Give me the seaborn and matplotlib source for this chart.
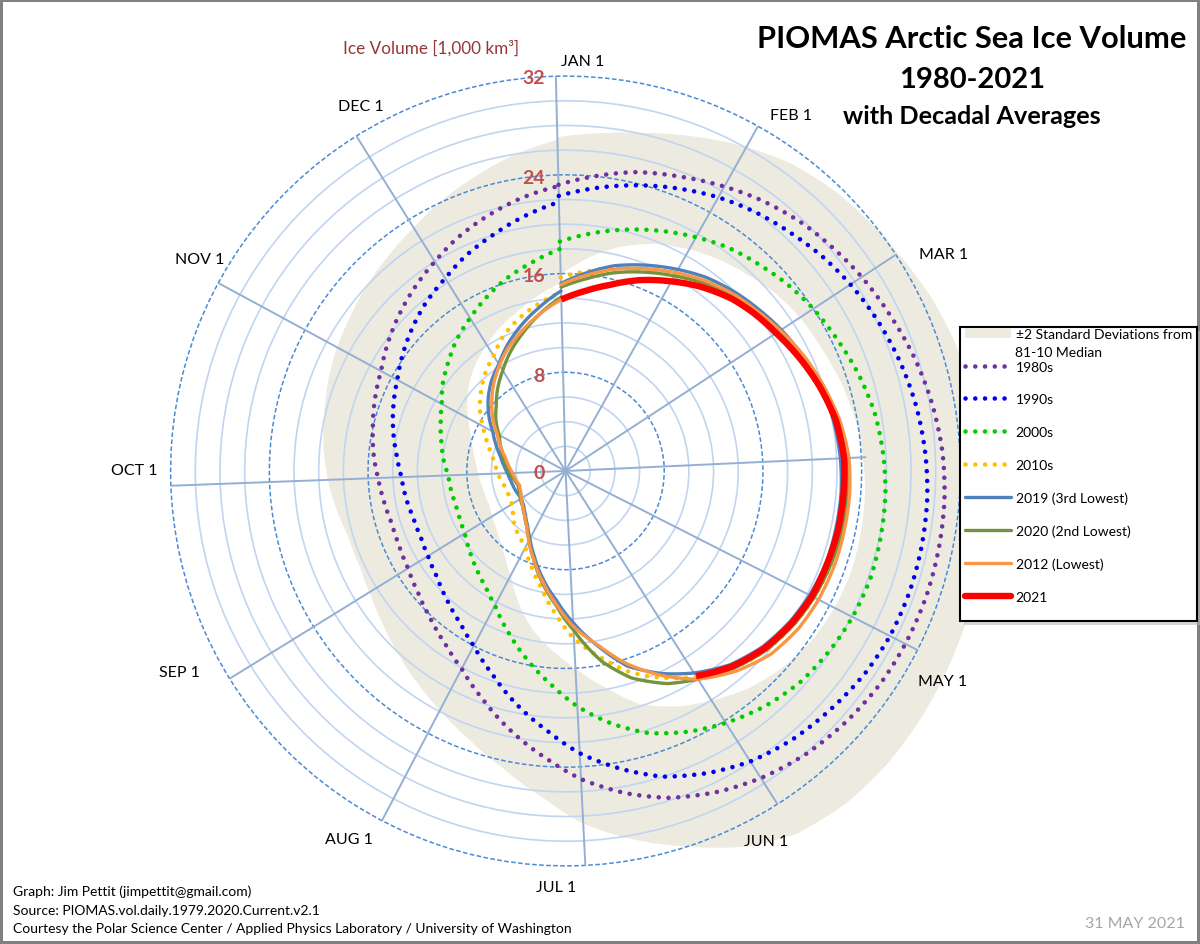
import numpy as np
import matplotlib
matplotlib.use("Agg")
import matplotlib.pyplot as plt
from matplotlib.lines import Line2D
from matplotlib.patches import Patch, Rectangle
import seaborn as sns

# day of year for each reading, read about every week off the chart
days = np.array([0, 8, 15, 23, 31, 38, 46, 52, 59, 67, 74, 82, 90, 97, 105, 112, 120, 127, 135,
                 143, 151, 158, 166, 173, 181, 188, 196, 204, 212, 219, 227, 235, 243, 250,
                 258, 265, 273, 280, 288, 296, 304, 311, 319, 326, 334, 341, 349, 357, 365])
days_2021 = days[:21]

band_low = [16.0, 17.5, 18.7, 19.8, 20.6, 21.2, 21.8, 22.3, 22.7, 23.0, 23.4, 23.8, 24.1, 24.3, 24.4, 24.5, 24.4,
            24.2, 23.7, 23.0, 22.0, 21.1, 19.8, 17.9, 16.0, 14.6, 13.1, 11.3, 9.6, 8.6, 7.8, 7.3, 7.0, 6.8, 6.8,
            6.9, 7.1, 7.3, 7.7, 8.2, 9.0, 9.8, 10.7, 11.4, 12.1, 12.8, 13.5, 14.4, 15.3]
band_high = [27.1, 27.6, 28.2, 29.1, 30.1, 30.9, 31.5, 31.8, 32.2, 32.8, 33.2, 33.6, 33.9, 34.2, 34.4, 34.6, 34.8,
             35.0, 35.2, 35.2, 34.8, 33.7, 31.9, 30.4, 28.6, 26.5, 24.6, 23.1, 21.9, 21.0, 20.1, 19.3, 18.7, 18.4,
             18.4, 18.8, 19.3, 19.7, 20.1, 20.6, 21.1, 21.5, 22.1, 22.6, 23.3, 24.1, 25.0, 26.0, 26.9]

vol_1980s = [23.2, 24.1, 24.9, 25.6, 26.4, 27.1, 27.8, 28.2, 28.7, 29.2, 29.7, 30.2, 30.6, 30.8, 30.9, 30.95, 30.9,
             30.8, 30.5, 30.1, 29.5, 28.8, 27.8, 26.6, 25.0, 23.3, 21.5, 19.7, 18.1, 17.1, 16.2, 15.5, 15.0, 14.8,
             14.7, 14.9, 15.2, 15.6, 16.0, 16.5, 17.0, 17.7, 18.5, 19.2, 20.0, 20.8, 21.6, 22.4, 23.1]
vol_1990s = [22.3, 23.1, 23.8, 24.6, 25.4, 26.0, 26.6, 27.1, 27.6, 28.1, 28.5, 28.9, 29.2, 29.4, 29.5, 29.55, 29.5,
             29.3, 28.9, 28.5, 27.9, 27.1, 26.0, 24.6, 22.9, 21.1, 19.3, 17.5, 16.0, 15.0, 14.2, 13.5, 13.1, 12.9,
             12.9, 13.1, 13.3, 13.7, 14.3, 14.9, 15.5, 16.2, 17.0, 17.7, 18.4, 19.2, 20.0, 20.9, 21.8]
vol_2000s = [18.6, 19.4, 20.1, 20.9, 21.7, 22.4, 23.0, 23.5, 24.0, 24.5, 25.0, 25.5, 25.8, 26.0, 26.1, 26.2, 26.1,
             25.9, 25.6, 25.0, 24.2, 23.4, 22.3, 20.9, 19.1, 17.3, 15.5, 13.8, 12.3, 11.4, 10.7, 10.1, 9.6, 9.4,
             9.3, 9.4, 9.5, 9.9, 10.3, 10.8, 11.4, 12.2, 13.0, 13.8, 14.6, 15.4, 16.3, 17.1, 18.0]
vol_2010s = [15.7, 16.3, 16.9, 17.5, 18.1, 18.8, 19.5, 20.0, 20.5, 21.2, 21.8, 22.3, 22.7, 22.9, 22.9, 22.8, 22.6,
             22.3, 21.8, 21.0, 19.8, 18.6, 17.1, 15.4, 13.6, 11.6, 9.6, 8.2, 7.0, 6.5, 6.1, 5.5, 5.1, 5.0,
             5.0, 5.2, 5.5, 5.7, 6.1, 6.8, 7.6, 8.5, 9.4, 10.2, 11.0, 12.0, 12.9, 13.7, 14.5]
vol_2019 = [15.2, 16.2, 17.1, 17.9, 18.7, 19.4, 20.0, 20.4, 20.9, 21.4, 21.8, 22.1, 22.3, 22.4, 22.4, 22.4, 22.2,
            21.9, 21.4, 20.6, 19.4, 18.2, 16.6, 14.5, 12.3, 10.5, 8.9, 7.4, 6.2, 5.4, 4.8, 4.4, 4.2, 4.3,
            4.4, 4.5, 4.7, 5.0, 5.4, 6.0, 6.7, 7.6, 8.6, 9.4, 10.2, 11.2, 12.3, 13.4, 14.6]
vol_2020 = [14.9, 15.7, 16.5, 17.3, 18.1, 18.9, 19.7, 20.2, 20.7, 21.4, 22.0, 22.5, 22.8, 22.9, 22.9, 22.8, 22.6,
            22.3, 21.8, 21.0, 20.0, 19.1, 17.6, 15.7, 12.9, 10.9, 9.2, 7.6, 6.3, 5.5, 4.9, 4.5, 4.3, 4.1,
            4.0, 4.2, 4.5, 4.8, 5.2, 5.6, 6.1, 6.9, 7.7, 8.6, 9.6, 10.6, 11.7, 12.9, 14.1]
vol_2012 = [15.1, 16.0, 16.8, 17.6, 18.4, 19.1, 19.8, 20.2, 20.8, 21.5, 22.0, 22.6, 23.0, 23.1, 23.1, 23.1, 23.0,
            22.8, 22.3, 21.3, 20.0, 18.4, 16.4, 14.4, 12.6, 10.8, 9.1, 7.6, 6.4, 5.5, 4.9, 4.5, 4.2, 4.0,
            3.9, 4.1, 4.3, 4.6, 5.0, 5.6, 6.3, 7.2, 8.2, 9.1, 10.1, 11.0, 11.9, 12.9, 13.9]
vol_2021 = [13.9, 14.7, 15.5, 16.6, 17.6, 18.5, 19.4, 19.9, 20.4, 21.1, 21.7, 22.3, 22.6, 22.6, 22.6, 22.5, 22.4,
            22.1, 21.6, 20.8, 19.7]

month_days = np.array([0, 31, 59, 90, 120, 151, 181, 212, 243, 273, 304, 334])
spoke_len = [32, 32, 32, 24.4, 32, 32, 32, 32, 32, 32, 32, 32]
month_labels = ["JAN 1", "FEB 1", "MAR 1", "MAY 1", "JUN 1", "JUL 1",
                "AUG 1", "SEP 1", "OCT 1", "NOV 1", "DEC 1"]
month_label_xy = [(583, 60), (791, 114), (944, 253), (943, 680), (766, 840), (556, 886),
                  (349, 838), (179, 671), (134, 469), (200, 258), (361, 105)]
ring_labels = ["32", "24", "16", "8", "0"]
ring_label_y = [77, 177, 275, 374, 472]

W, H = 1200, 945
CX, CY = 565.5, 472
PX_PER_UNIT = 12.34
RMAX = 38


def to_theta(d):
    return np.deg2rad(np.asarray(d) * 360 / 365)


sns.set_style("white")
plt.rcParams["font.family"] = ["Lato", "DejaVu Sans"]
plt.rcParams["text.color"] = "black"

fig = plt.figure(figsize=(12, 9.45), dpi=100)
fig.patch.set_edgecolor("#808080")
fig.patch.set_linewidth(3)

R = RMAX * PX_PER_UNIT
ax = fig.add_axes([(CX - R) / W, (H - CY - R) / H, 2 * R / W, 2 * R / H], projection="polar")
ax.set_theta_direction(-1)
ax.set_theta_offset(np.pi / 2 + np.deg2rad(1.4))
ax.patch.set_alpha(0)
ax.spines["polar"].set_visible(False)


def smooth(artist_path):
    # polar chords -> curved segments when drawn
    artist_path._interpolation_steps = 8


band = ax.fill_between(to_theta(days), band_low, band_high, color="#EDEBE0", lw=0, zorder=0.2)
for p in band.get_paths():
    smooth(p)

ax.vlines(to_theta(month_days), 0, spoke_len, color="#94AFD4", lw=1.4, zorder=1)

dotted = dict(linestyle=(0, (0.01, 2.12)), dash_capstyle="round", lw=3.3, zorder=2)
series = [
    (vol_1980s, days, "#7030A0", dotted),
    (vol_1990s, days, "#0000F0", dotted),
    (vol_2000s, days, "#00CC00", dotted),
    (vol_2010s, days, "#FFC000", dotted),
    (vol_2019, days, "#4F81BD", dict(lw=2.4, zorder=3)),
    (vol_2020, days, "#76923C", dict(lw=2.4, zorder=3)),
    (vol_2012, days, "#F79646", dict(lw=2.4, zorder=3)),
    (vol_2021, days_2021, "#FF0000", dict(lw=4.6, zorder=4, solid_capstyle="butt")),
]
for vals, dd, col, kw in series:
    sns.lineplot(x=to_theta(dd), y=vals, color=col, sort=False, estimator=None, errorbar=None,
                 ax=ax, **kw)
    smooth(ax.lines[-1].get_path())

ax.set_ylim(0, RMAX)
ax.set_xticks([])
ax.set_yticks([8, 16, 24, 32])
ax.set_yticks([2, 4, 6, 10, 12, 14, 18, 20, 22, 26, 28, 30], minor=True)
ax.grid(False, axis="x")
ax.grid(True, which="major", axis="y", color="#4A8AD4", lw=1.1, linestyle=(0, (3, 1.6)))
ax.grid(True, which="minor", axis="y", color="#C0D5F0", lw=1.2)
ax.tick_params(axis="y", which="both", length=0, labelleft=False)
ax.set_xlabel("")
ax.set_ylabel("")


def label(x, y, s, **kw):
    kw.setdefault("va", "center")
    kw.setdefault("ha", "center")
    return fig.text(x / W, 1 - (y + 2) / H, s, **kw)


for s, (x, y) in zip(month_labels, month_label_xy):
    label(x, y, s, fontsize=11.5)
for s, y in zip(ring_labels, ring_label_y):
    label(545, y, s, ha="right", fontsize=14, color="#C0504D", fontweight="bold", zorder=6)

label(431, 46, "Ice Volume [1,000 km³]", fontsize=12.3, color="#953735")
label(972, 37, "PIOMAS Arctic Sea Ice Volume", fontsize=22.2, fontweight="bold")
label(972, 78, "1980-2021", fontsize=21, fontweight="bold")
label(972, 115, "with Decadal Averages", fontsize=18.2, fontweight="bold")

label(13, 890, "Graph: Jim Pettit (jimpettit@gmail.com)", ha="left", fontsize=10)
label(13, 909, "Source: PIOMAS.vol.daily.1979.2020.Current.v2.1", ha="left", fontsize=10)
label(13, 927, "Courtesy the Polar Science Center / Applied Physics Laboratory / University of Washington",
      ha="left", fontsize=10)
label(1185, 922, "31 MAY 2021", ha="right", fontsize=11.5, color="#A6A6A6")

# legend box with soft shadow, sits over the chart like the original text box
box_x0, box_x1, box_y0, box_y1 = 960, 1197, 328, 622
fig.add_artist(Rectangle((box_x0 / W + 0.003, 1 - (box_y1 + 4) / H), (box_x1 - box_x0) / W, (box_y1 - box_y0) / H,
                         transform=fig.transFigure, fc="#BBBBBB", ec="none", alpha=0.6, zorder=1))
fig.add_artist(Rectangle((box_x0 / W, 1 - box_y1 / H), (box_x1 - box_x0) / W, (box_y1 - box_y0) / H,
                         transform=fig.transFigure, fc="white", ec="black", lw=1.5, zorder=2))

dot_hdl = dict(linestyle=(0, (0.01, 2.12)), dash_capstyle="round", lw=3.3)
handles = [
    Patch(fc="#EDEBE0", ec="none"),
    Line2D([], [], color="#7030A0", **dot_hdl),
    Line2D([], [], color="#0000F0", **dot_hdl),
    Line2D([], [], color="#00CC00", **dot_hdl),
    Line2D([], [], color="#FFC000", **dot_hdl),
    Line2D([], [], color="#4F81BD", lw=2.4),
    Line2D([], [], color="#76923C", lw=2.4),
    Line2D([], [], color="#F79646", lw=2.4),
    Line2D([], [], color="#FF0000", lw=4.6, solid_capstyle="round"),
]
names = ["±2 Standard Deviations from", "1980s", "1990s", "2000s", "2010s",
         "2019 (3rd Lowest)", "2020 (2nd Lowest)", "2012 (Lowest)", "2021"]
leg = fig.legend(handles, names, loc="upper left", bbox_to_anchor=(965 / W, 1 - 329 / H),
                 frameon=False, fontsize=10, borderaxespad=0, borderpad=0, handlelength=3.3,
                 handletextpad=0.35, labelspacing=1.486)
leg.set_zorder(5)
label(1015, 351, "81-10 Median", ha="left", fontsize=10, zorder=6)

fig.savefig("out.png", dpi=100, edgecolor=fig.get_edgecolor())
